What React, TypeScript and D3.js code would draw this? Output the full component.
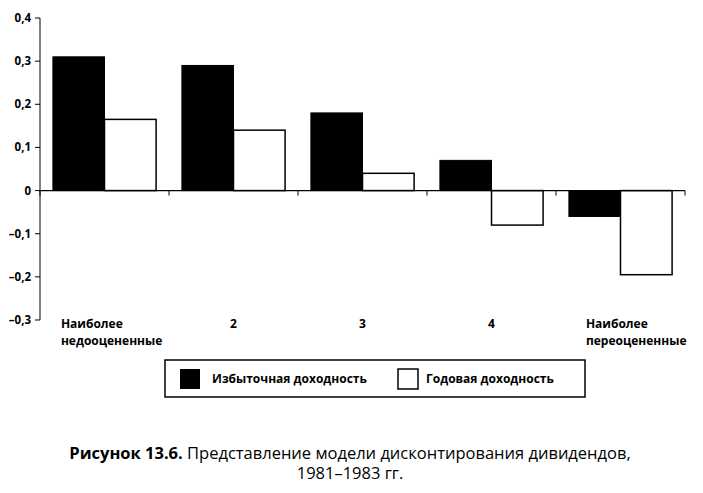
import React from "react";
import * as d3 from "d3";

const categories = ["1", "2", "3", "4", "5"];
const catLabels = [["Наиболее", "недооцененные"], ["2"], ["3"], ["4"], ["Наиболее", "переоцененные"]];
const labelShift = [8, 0, 0, 0, 17];
const excess = [0.31, 0.29, 0.18, 0.07, -0.06];
const annual = [0.165, 0.14, 0.04, -0.08, -0.195];
const yTicks = [0.4, 0.3, 0.2, 0.1, 0, -0.1, -0.2, -0.3];
const seriesNames = ["Избыточная доходность", "Годовая доходность"];

export default function App() {
  const W = 703, H = 493;
  const x = d3.scaleBand().domain(categories).range([40, 685]).paddingInner(0.2).paddingOuter(0.1);
  const y = d3.scaleLinear().domain([-0.3, 0.4]).range([320, 18]);
  const sub = d3.scaleBand().domain(["a", "b"]).range([0, x.bandwidth()]);
  const fmt = (v: number) => (v === 0 ? "0" : v.toFixed(1).replace(".", ",").replace("-", "–"));
  const font = "'Open Sans', 'Noto Sans', sans-serif";
  const step = x.step();
  return (
    <svg width={W} height={H} style={{ position: "absolute", left: 0, top: 0 }} fontFamily={font}>
      <line x1={40} x2={40} y1={y(0.4)} y2={y(-0.3)} stroke="#000" />
      {yTicks.map((t) => (
        <g key={t}>
          <line x1={35} x2={40} y1={y(t)} y2={y(t)} stroke="#000" />
          <text x={31} y={y(t)} dy="0.35em" textAnchor="end" fontSize={11.5} fontWeight="bold">{fmt(t)}</text>
        </g>
      ))}
      {categories.map((c, i) => (
        <g key={c}>
          <rect x={x(c)! + sub("a")!} y={y(Math.max(0, excess[i]))} width={sub.bandwidth()}
            height={Math.abs(y(excess[i]) - y(0))} fill="#000" stroke="#000" />
          <rect x={x(c)! + sub("b")!} y={y(Math.max(0, annual[i]))} width={sub.bandwidth()}
            height={Math.abs(y(annual[i]) - y(0))} fill="#fff" stroke="#000" strokeWidth={1.5} />
        </g>
      ))}
      <line x1={40} x2={685} y1={y(0)} y2={y(0)} stroke="#000" strokeWidth={1.2} />
      {d3.range(6).map((i) => (
        <line key={i} x1={40 + i * step} x2={40 + i * step} y1={y(0)} y2={y(0) + 5} stroke="#000" />
      ))}
      {categories.map((c, i) => {
        const lines = catLabels[i];
        const multi = lines.length > 1;
        const cx = multi ? x(c)! + labelShift[i] : x(c)! + x.bandwidth() / 2;
        return (
          <text key={c} x={cx} y={328} textAnchor={multi ? "start" : "middle"} fontSize={12} fontWeight="bold">
            {lines.map((l, j) => (
              <tspan key={j} x={cx} dy={j === 0 ? 0 : 17}>{l}</tspan>
            ))}
          </text>
        );
      })}
      <rect x={165} y={360} width={420} height={37} fill="#fff" stroke="#000" strokeWidth={1.5} />
      <rect x={180} y={369} width={20} height={20} fill="#000" />
      <text x={212} y={383} fontSize={12} fontWeight="bold">{seriesNames[0]}</text>
      <rect x={398} y={369} width={20} height={20} fill="#fff" stroke="#000" strokeWidth={1.5} />
      <text x={426} y={383} fontSize={12} fontWeight="bold">{seriesNames[1]}</text>
      <text x={350} y={459} textAnchor="middle" fontSize={16.5}>
        <tspan fontWeight="bold">Рисунок 13.6.</tspan> Представление модели дисконтирования дивидендов,
      </text>
      <text x={350} y={479} textAnchor="middle" fontSize={16.5}>1981–1983 гг.</text>
    </svg>
  );
}
